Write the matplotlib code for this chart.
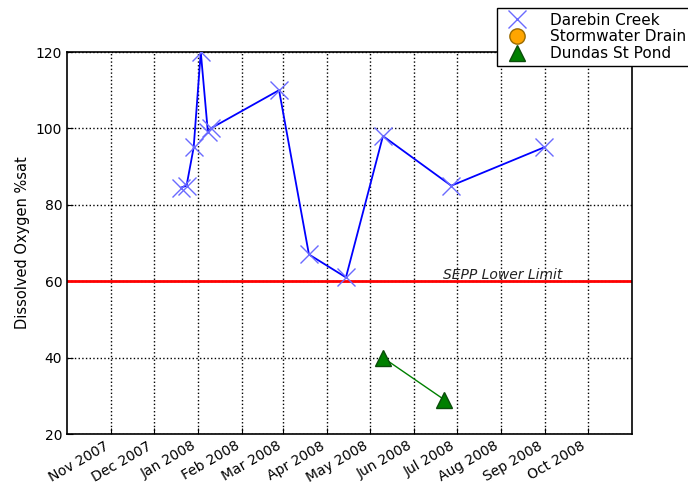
import datetime as dt
import matplotlib
matplotlib.use("Agg")
import matplotlib.pyplot as plt
import matplotlib.dates as mdates

# Darebin Creek samples
darebin_dates = [dt.date(2007, 12, 20), dt.date(2007, 12, 24), dt.date(2007, 12, 29),
                 dt.date(2008, 1, 3), dt.date(2008, 1, 8), dt.date(2008, 1, 10),
                 dt.date(2008, 2, 27), dt.date(2008, 3, 19), dt.date(2008, 4, 14),
                 dt.date(2008, 5, 10), dt.date(2008, 6, 27), dt.date(2008, 8, 31)]
darebin_do = [84.5, 85, 95, 120, 99, 100, 110, 67, 61, 98, 85, 95]

# Stormwater Drain (no samples in view)
storm_dates = []
storm_do = []

# Dundas St Pond samples
dundas_dates = [dt.date(2008, 5, 10), dt.date(2008, 6, 22)]
dundas_do = [40, 29]

sepp_limit = 60
month_ticks = [dt.date(2007, 11, 1), dt.date(2007, 12, 1)] + \
    [dt.date(2008, m, 1) for m in range(1, 11)]

fig = plt.figure(figsize=(6.88, 4.87), dpi=100)
ax = fig.add_axes([67 / 688, 53 / 487, 565 / 688, 382 / 487])

ax.plot(darebin_dates, darebin_do, '-', color='blue', lw=1.3, zorder=3)
ax.plot(darebin_dates, darebin_do, 'x', color='#6a6aff', ms=13, mew=1.0,
        zorder=4, label='Darebin Creek')
ax.plot(storm_dates, storm_do, 'o', color='orange', ms=11, mec='#9a6a00',
        label='Stormwater Drain')
ax.plot(dundas_dates, dundas_do, '-', color='green', lw=1.0, zorder=3)
ax.plot(dundas_dates, dundas_do, '^', color='green', ms=11, mec='#0b4d0b',
        zorder=4, label='Dundas St Pond')

ax.axhline(sepp_limit, color='red', lw=2, zorder=2)
ax.text(dt.date(2008, 6, 21), sepp_limit + 0.6, 'SEPP Lower Limit',
        style='italic', fontsize=10, va='baseline', ha='left', color='#222222')

ax.set_xlim(dt.date(2007, 10, 1), dt.date(2008, 11, 1))
ax.set_ylim(20, 120)
ax.set_yticks([20, 40, 60, 80, 100, 120])
ax.set_xticks(month_ticks)
ax.xaxis.set_major_formatter(mdates.DateFormatter('%b %Y'))
for lbl in ax.get_xticklabels():
    lbl.set_rotation(30)
    lbl.set_ha('right')

ax.grid(True, color='black', ls=':', lw=1)
ax.tick_params(direction='in', length=4, labelsize=10, top=False, right=False)
for s in ax.spines.values():
    s.set_linewidth(1.2)
ax.set_ylabel('Dissolved Oxygen %sat', fontsize=10.5)

fig.legend(loc='upper left', bbox_to_anchor=(497 / 688, 1 - 8 / 487),
           numpoints=1, fontsize=11, fancybox=False, edgecolor='black',
           framealpha=1, borderaxespad=0, handletextpad=1.2,
           labelspacing=0.12, borderpad=0.3)

fig.savefig('out.png', dpi=100)
